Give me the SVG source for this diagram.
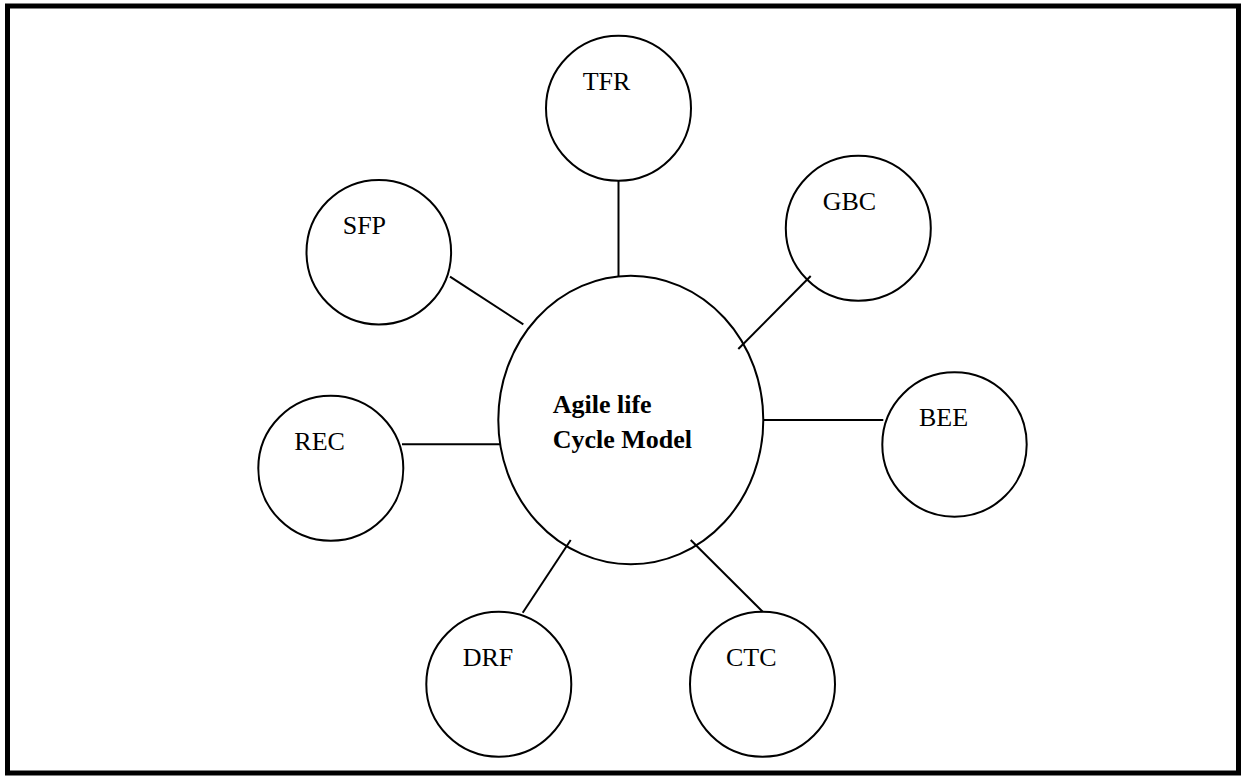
<svg xmlns="http://www.w3.org/2000/svg" width="1246" height="776" viewBox="0 0 1246 776">
  <style>
    .node { fill: none; stroke: #000000; stroke-width: 2; }
    .link { stroke: #000000; stroke-width: 2; fill: none; }
    .label { font-family: "Liberation Serif", "Times New Roman", serif; font-size: 26px; fill: #000000; }
    .title { font-family: "Liberation Serif", "Times New Roman", serif; font-size: 26px; font-weight: bold; fill: #000000; }
  </style>
  <rect x="0" y="0" width="1246" height="776" fill="#ffffff"/>
  <!-- page frame -->
  <rect x="7.5" y="6" width="1231" height="767" fill="none" stroke="#000000" stroke-width="5"/>

  <!-- connectors between the hub and the satellites -->
  <g id="connectors">
    <line class="link" x1="618.5" y1="180.5" x2="618.5" y2="276"/>
    <line class="link" x1="810.7" y1="276" x2="738.3" y2="349"/>
    <line class="link" x1="450" y1="276.7" x2="523.3" y2="324.3"/>
    <line class="link" x1="402" y1="444.3" x2="500" y2="444.3"/>
    <line class="link" x1="763.3" y1="420" x2="883.3" y2="420"/>
    <line class="link" x1="570.7" y1="540" x2="522.7" y2="612.7"/>
    <line class="link" x1="690.7" y1="540" x2="762.7" y2="611.7"/>
  </g>

  <g id="hub">
    <ellipse class="node" cx="630.8" cy="420" rx="132.5" ry="144.3"/>
    <text class="title" x="552.7" y="413.3">Agile life</text>
    <text class="title" x="552.7" y="448.3">Cycle Model</text>
  </g>

  <g id="tfr">
    <circle class="node" cx="618.5" cy="108.2" r="72.5"/>
    <text class="label" x="582.7" y="90">TFR</text>
  </g>

  <g id="gbc">
    <circle class="node" cx="858.3" cy="228.3" r="72.5"/>
    <text class="label" x="822.7" y="210">GBC</text>
  </g>

  <g id="sfp">
    <circle class="node" cx="378.8" cy="252.2" r="72.3"/>
    <text class="label" x="342.7" y="234">SFP</text>
  </g>

  <g id="rec">
    <circle class="node" cx="330.8" cy="468.3" r="72.5"/>
    <text class="label" x="294.3" y="450">REC</text>
  </g>

  <g id="bee">
    <circle class="node" cx="954.5" cy="444.5" r="72.2"/>
    <text class="label" x="919" y="426">BEE</text>
  </g>

  <g id="drf">
    <circle class="node" cx="498.8" cy="684.2" r="72.5"/>
    <text class="label" x="462.7" y="665.7">DRF</text>
  </g>

  <g id="ctc">
    <circle class="node" cx="762.5" cy="684.2" r="72.5"/>
    <text class="label" x="726" y="665.7">CTC</text>
  </g>
</svg>
